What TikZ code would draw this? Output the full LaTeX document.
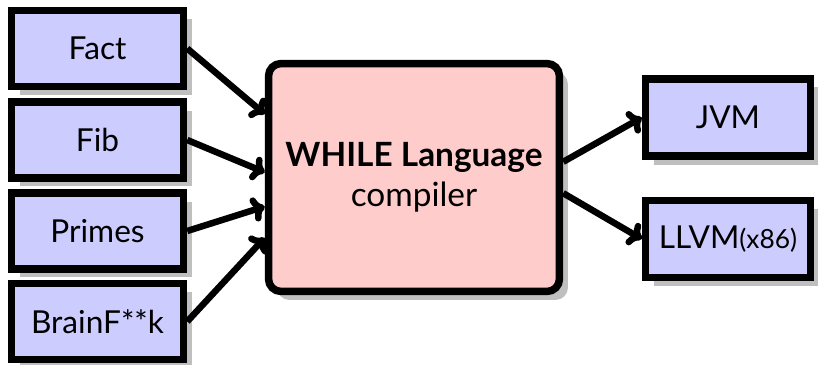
\documentclass[tikz,border=0pt]{standalone}
\usepackage{fontspec}
\setmainfont{Lato}
\usepackage{tikz}
\usetikzlibrary{shadows}
\usetikzlibrary{arrows.meta}
\tikzset{srcbox/.style={draw, line width=0.15cm, minimum width=3.44cm, minimum height=1.52cm, fill=blue!20, drop shadow={shadow xshift=0.17cm, shadow yshift=-0.17cm, fill=black!25, opacity=1}, font=\fontsize{18}{22}\selectfont}}
\tikzset{tgtbox/.style={srcbox, minimum width=3.3cm, minimum height=1.55cm}}
\tikzset{mainbox/.style={draw, line width=0.15cm, rounded corners=0.25cm, minimum width=5.82cm, minimum height=4.56cm, fill=red!20, align=center, drop shadow={shadow xshift=0.17cm, shadow yshift=-0.17cm, fill=black!25, opacity=1}, font=\fontsize{19}{23}\selectfont}}
\tikzset{flow/.style={line width=0.13cm, -{To[length=0.26cm, width=0.5cm]}}}

\begin{document}
\begin{tikzpicture}[x=0.02cm, y=-0.02cm]
\useasboundingbox (0, 0) rectangle (818, 365);

\node[srcbox] (fact) at (97.5, 48.5) {Fact};
\node[srcbox] (fib) at (97.5, 140) {Fib};
\node[srcbox] (primes) at (97.5, 231) {Primes};
\node[srcbox] (brainf) at (97.5, 321.5) {BrainF**k};

\node[mainbox] (while) at (414, 177.5) {\textbf{WHILE Language}\\compiler};

\node[tgtbox] (jvm) at (728, 117.5) {JVM};
\node[tgtbox] (llvm) at (728, 239) {LLVM{\fontsize{15}{17}\selectfont(x86)}};

\draw[flow] (fact.east) to (while.157);
\draw[flow] (fib.east) to (while.178);
\draw[flow] (primes.east) to (while.191);
\draw[flow] (brainf.east) to (while.202);

\draw[flow] (while.6) to (jvm.west);
\draw[flow] (while.354) to (llvm.west);

\end{tikzpicture}
\end{document}
